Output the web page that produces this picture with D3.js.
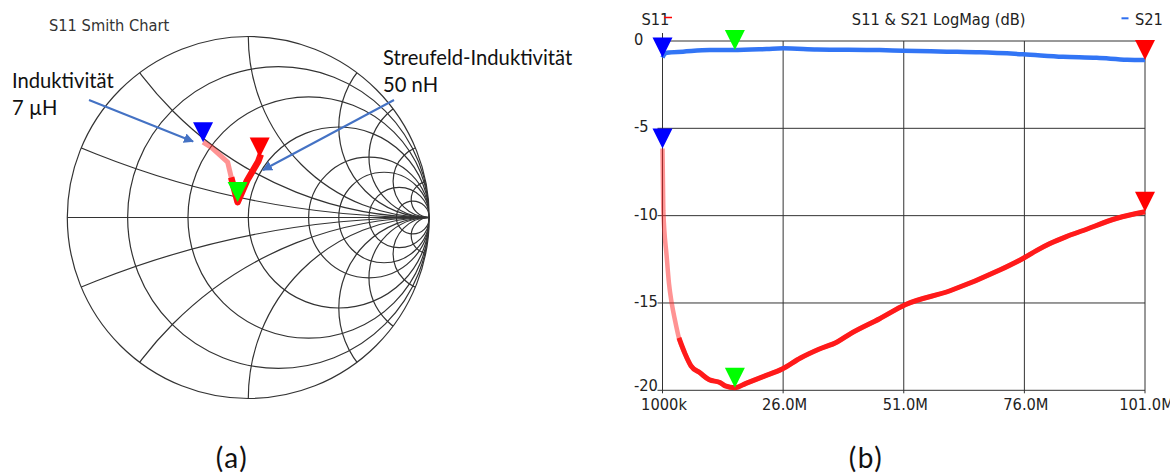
<!DOCTYPE html>
<html>
<head>
<meta charset="utf-8">
<script src="https://cdn.jsdelivr.net/npm/d3@7"></script>
<style>
  body { margin: 0; background: #fff; }
  svg { display: block; }
  .ui { font-family: "DejaVu Sans Condensed", "DejaVu Sans", sans-serif; font-stretch: condensed; font-size: 16.3px; fill: #222; }
  .note { font-family: Lato, "Open Sans", sans-serif; font-size: 20.2px; fill: #111; }
  .cap { font-family: Lato, "Open Sans", sans-serif; font-size: 28px; fill: #111; letter-spacing: 1.5px; }
</style>
</head>
<body>
<div id="chart"></div>
<script>
// S11 / S21 LogMag, frequency in MHz
const s11Freq = [1, 1.17, 1.87, 2.35, 2.9, 3.6, 4.4, 5.66, 6.9, 8.77, 10.7, 12.9, 14, 16, 18.3, 22, 25.8, 29.6, 33.4, 37.2, 40, 46, 51.3, 60.6, 71, 75.7, 78.5, 81.3, 84.7, 88.2, 95.2, 101];
const s11Db   = [-6.15, -9.7, -12.35, -13.9, -15.0, -16.0, -17.0, -17.9, -18.6, -19.0, -19.4, -19.55, -19.75, -19.85, -19.6, -19.2, -18.78, -18.15, -17.65, -17.23, -16.75, -15.9, -15.1, -14.3, -13.1, -12.45, -12.0, -11.6, -11.2, -10.85, -10.15, -9.78];
const s21Freq = [1, 1.4, 1.9, 5.25, 10.8, 15.6, 22.6, 26, 33, 46, 50.8, 59.9, 66.8, 75.7, 84, 91, 97.3, 101];
const s21Db   = [-0.95, -0.75, -0.67, -0.61, -0.52, -0.52, -0.46, -0.42, -0.48, -0.52, -0.56, -0.61, -0.65, -0.76, -0.9, -0.96, -1.07, -1.09];

const xTicks = [1, 26, 51, 76, 101];
const xTickLabels = ["1000k", "26.0M", "51.0M", "76.0M", "101.0M"];
const yTicks = [0, -5, -10, -15, -20];

// S11 on the Smith chart (reflection coefficient)
const smithFreq = [1, 1.3, 2, 3, 16, 45, 85, 101];
const smithRe = [-0.25, -0.204, -0.114, -0.09, -0.059, -0.007, 0.055, 0.063];
const smithIm = [0.416, 0.387, 0.306, 0.204, 0.085, 0.204, 0.31, 0.332];

const resistances = [0.2, 0.5, 1, 2, 3, 5, 10];
const reactances = [0.2, 0.5, 1, 2, 3, 5, 10];

const markerFreq = [1, 16, 101];
const markerColors = ["#0000ff", "#00ff00", "#ff0000"];

const svg = d3.select("#chart").append("svg")
  .attr("width", 1170)
  .attr("height", 474);

// interpolate a series at a frequency
function valueAt(freqs, vals, f) {
  const i = Math.min(Math.max(d3.bisectLeft(freqs, f), 1), freqs.length - 1);
  const t = (f - freqs[i - 1]) / (freqs[i] - freqs[i - 1]);
  return vals[i - 1] + t * (vals[i] - vals[i - 1]);
}

function triangle(g, x, y, color) {
  g.append("path")
    .attr("d", `M${x - 10},${y - 20}L${x + 10},${y - 20}L${x},${y}Z`)
    .attr("fill", color);
}

// ---------- Smith chart ----------
const cx = 248.3, cy = 217.5, R = 181;
const sx = d3.scaleLinear().domain([-1, 1]).range([cx - R, cx + R]);
const sy = d3.scaleLinear().domain([-1, 1]).range([cy + R, cy - R]);
const sr = v => sx(v) - sx(0);

const defs = svg.append("defs");
defs.append("clipPath").attr("id", "unit")
  .append("circle").attr("cx", sx(0)).attr("cy", sy(0)).attr("r", sr(1));

const smith = svg.append("g")
  .attr("fill", "none")
  .attr("stroke", "#333")
  .attr("stroke-width", 1.2);

smith.append("circle").attr("cx", sx(0)).attr("cy", sy(0)).attr("r", sr(1));
smith.append("line")
  .attr("x1", sx(-1)).attr("x2", sx(1))
  .attr("y1", sy(0)).attr("y2", sy(0));

const grid = smith.append("g").attr("clip-path", "url(#unit)");

grid.selectAll(".res")
  .data(resistances)
  .join("circle")
  .attr("cx", d => sx(d / (1 + d)))
  .attr("cy", sy(0))
  .attr("r", d => sr(1 / (1 + d)));

grid.selectAll(".reac")
  .data(reactances.flatMap(d => [d, -d]))
  .join("circle")
  .attr("cx", sx(1))
  .attr("cy", d => sy(1 / d))
  .attr("r", d => sr(1 / Math.abs(d)));

svg.append("text").attr("class", "ui")
  .attr("x", 49).attr("y", 30.5)
  .style("fill", "#333")
  .text("S11 Smith Chart");

const smithPts = smithFreq.map((f, i) => [sx(smithRe[i]), sy(smithIm[i])]);
const smithLine = d3.line();
const split = 3;

svg.append("path")
  .attr("d", smithLine(smithPts.slice(0, split + 1)))
  .attr("fill", "none")
  .attr("stroke", "rgba(255,40,40,0.5)")
  .attr("stroke-width", 5)
  .attr("stroke-linejoin", "round");

svg.append("path")
  .attr("d", smithLine(smithPts.slice(split)))
  .attr("fill", "none")
  .attr("stroke", "#ff1010")
  .attr("stroke-width", 6.5)
  .attr("stroke-linejoin", "round")
  .attr("stroke-linecap", "square");

const smithMarks = svg.append("g");
markerFreq.forEach((f, i) => {
  const re = valueAt(smithFreq, smithRe, f);
  const im = valueAt(smithFreq, smithIm, f);
  triangle(smithMarks, sx(re), sy(im), markerColors[i]);
});

// annotations
defs.append("marker")
  .attr("id", "arrow")
  .attr("viewBox", "0 0 10 10")
  .attr("refX", 9).attr("refY", 5)
  .attr("markerWidth", 5).attr("markerHeight", 5)
  .attr("orient", "auto")
  .append("path").attr("d", "M0,0L10,5L0,10Z").attr("fill", "#4472c4");

svg.append("line")
  .attr("x1", 89).attr("y1", 100).attr("x2", 193).attr("y2", 141.5)
  .attr("stroke", "#4472c4").attr("stroke-width", 2)
  .attr("marker-end", "url(#arrow)");
svg.append("line")
  .attr("x1", 394).attr("y1", 100).attr("x2", 263).attr("y2", 170)
  .attr("stroke", "#4472c4").attr("stroke-width", 2)
  .attr("marker-end", "url(#arrow)");

svg.append("text").attr("class", "note").attr("x", 12).attr("y", 88).text("Induktivität");
svg.append("text").attr("class", "note").attr("x", 12).attr("y", 115).text("7 µH");
svg.append("text").attr("class", "note").attr("x", 383).attr("y", 65).text("Streufeld-Induktivität");
svg.append("text").attr("class", "note").attr("x", 383).attr("y", 91.5).text("50 nH");

// ---------- LogMag chart ----------
const x = d3.scaleLinear().domain([1, 101]).range([662.5, 1145]);
const y = d3.scaleLinear().domain([-20, 0]).range([390.3, 41]);

const lm = svg.append("g").attr("stroke", "#333").attr("stroke-width", 1);

lm.selectAll(".hgrid")
  .data(yTicks)
  .join("line")
  .attr("x1", x(1) - 5).attr("x2", x(101))
  .attr("y1", d => y(d)).attr("y2", d => y(d));

lm.selectAll(".vgrid")
  .data(xTicks)
  .join("line")
  .attr("x1", d => x(d)).attr("x2", d => x(d))
  .attr("y1", d => d === xTicks[0] ? y(0) - 8 : y(0))
  .attr("y2", y(-20) + 3);

// bottom label sits a little higher so it clears the frequency labels
svg.selectAll(".ylab")
  .data(yTicks)
  .join("text")
  .attr("class", "ui")
  .attr("x", 634)
  .attr("y", d => y(d) + (d === -20 ? 1 : 4))
  .text(d => d);

svg.selectAll(".xlab")
  .data(xTicks)
  .join("text")
  .attr("class", "ui")
  .attr("x", d => x(d) + 1.5)
  .attr("y", 410)
  .attr("text-anchor", "middle")
  .text((d, i) => xTickLabels[i]);

svg.append("text").attr("class", "ui")
  .attr("x", 938.7).attr("y", 25)
  .attr("text-anchor", "middle")
  .text("S11 & S21 LogMag (dB)");

svg.append("text").attr("class", "ui").attr("x", 641.5).attr("y", 25).text("S11");
svg.append("line").attr("x1", 664).attr("x2", 672).attr("y1", 17.5).attr("y2", 17.5)
  .attr("stroke", "#ff0000").attr("stroke-width", 1.5);
svg.append("text").attr("class", "ui").attr("x", 1135).attr("y", 25).text("S21");
svg.append("line").attr("x1", 1121.5).attr("x2", 1128.5).attr("y1", 18.3).attr("y2", 18.3)
  .attr("stroke", "#2e6ff0").attr("stroke-width", 2);

const line = d3.line()
  .x(d => x(d[0]))
  .y(d => y(d[1]))
  .curve(d3.curveMonotoneX);

const s21Pts = s21Freq.map((f, i) => [f, s21Db[i]]);
const s11Pts = s11Freq.map((f, i) => [f, s11Db[i]]);

svg.append("path")
  .attr("d", line(s21Pts))
  .attr("fill", "none")
  .attr("stroke", "#3275f5")
  .attr("stroke-width", 4.5);

svg.append("path")
  .attr("d", line(s11Pts))
  .attr("fill", "none")
  .attr("stroke", "rgba(255,40,40,0.5)")
  .attr("stroke-width", 4.5);

svg.append("path")
  .attr("d", line(s11Pts.filter(d => d[0] >= 4.4)))
  .attr("fill", "none")
  .attr("stroke", "#ff1a1a")
  .attr("stroke-width", 5);

const lmMarks = svg.append("g");
markerFreq.forEach((f, i) => {
  triangle(lmMarks, x(f), y(valueAt(s21Freq, s21Db, f)), markerColors[i]);
  triangle(lmMarks, x(f), y(valueAt(s11Freq, s11Db, f)), markerColors[i]);
});

svg.append("text").attr("class", "cap").attr("x", 232).attr("y", 468).attr("text-anchor", "middle").text("(a)");
svg.append("text").attr("class", "cap").attr("x", 866).attr("y", 468).attr("text-anchor", "middle").text("(b)");
</script>
</body>
</html>
